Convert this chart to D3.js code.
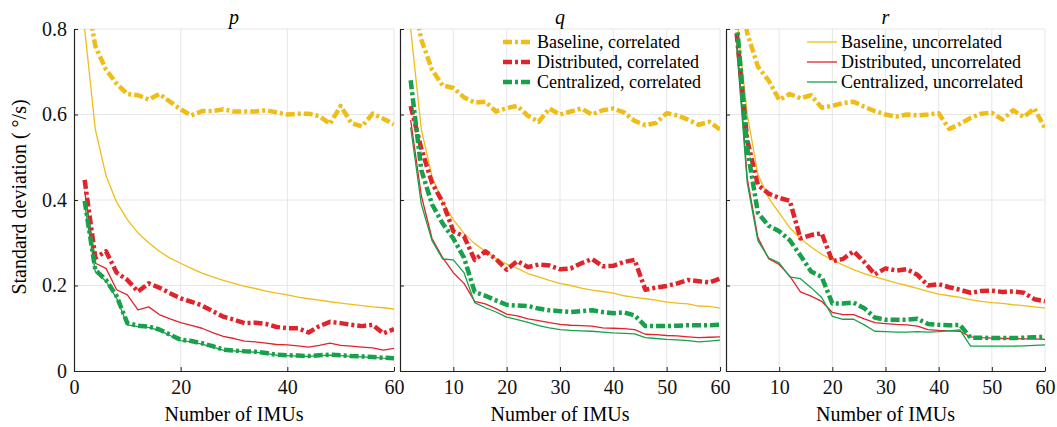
<!DOCTYPE html>
<html>
<head>
<meta charset="utf-8">
<script src="https://cdn.jsdelivr.net/npm/d3@7"></script>
<style>
  body { margin: 0; background: #fff; }
  svg text { font-family: "Liberation Serif", "DejaVu Serif", serif; }
</style>
</head>
<body>
<div id="graph"></div>
<script>
!(function(){
    "use strict"

    var serif = "'Liberation Serif', 'DejaVu Serif', serif";

    // number of IMUs (even counts only)
    var imus = d3.range(2, 61, 2);

    var panelTitles = ["p", "q", "r"];
    var xTicksP = [0, 20, 40, 60];
    var xTicksQR = [0, 10, 20, 30, 40, 50, 60];
    var yTicks = [0, 0.2, 0.4, 0.6, 0.8];

    var seriesNames = [
        "Baseline, correlated", "Distributed, correlated", "Centralized, correlated",
        "Baseline, uncorrelated", "Distributed, uncorrelated", "Centralized, uncorrelated"
    ];

    // ---- p ----
    var pBaseCorr = [0.90, 0.76, 0.705, 0.672, 0.648, 0.645, 0.635, 0.648, 0.63, 0.612, 0.598, 0.608, 0.608, 0.612, 0.607,
                     0.607, 0.607, 0.61, 0.605, 0.60, 0.602, 0.602, 0.596, 0.578, 0.62, 0.58, 0.572, 0.602, 0.59, 0.577];
    var pDistCorr = [0.447, 0.265, 0.28, 0.23, 0.213, 0.186, 0.205, 0.195, 0.182, 0.17, 0.162, 0.153, 0.14, 0.127, 0.12,
                     0.112, 0.113, 0.11, 0.103, 0.10, 0.10, 0.09, 0.105, 0.115, 0.112, 0.108, 0.105, 0.108, 0.088, 0.098];
    var pCentCorr = [0.398, 0.236, 0.213, 0.175, 0.112, 0.106, 0.104, 0.097, 0.085, 0.073, 0.07, 0.065, 0.058, 0.05, 0.048,
                     0.046, 0.045, 0.042, 0.038, 0.037, 0.036, 0.035, 0.037, 0.038, 0.037, 0.035, 0.034, 0.033, 0.031, 0.03];
    var pBaseUnc  = [0.80, 0.565, 0.457, 0.395, 0.354, 0.323, 0.30, 0.28, 0.264, 0.252, 0.24, 0.229, 0.22, 0.212, 0.205,
                     0.198, 0.193, 0.187, 0.182, 0.178, 0.173, 0.169, 0.166, 0.162, 0.159, 0.156, 0.153, 0.15, 0.148, 0.145];
    var pDistUnc  = [0.42, 0.252, 0.24, 0.19, 0.178, 0.143, 0.15, 0.132, 0.122, 0.113, 0.107, 0.10, 0.09, 0.081, 0.076,
                     0.07, 0.068, 0.065, 0.062, 0.061, 0.059, 0.056, 0.06, 0.065, 0.06, 0.058, 0.056, 0.054, 0.049, 0.053];
    var pCentUnc  = [0.39, 0.232, 0.21, 0.17, 0.108, 0.104, 0.102, 0.095, 0.083, 0.071, 0.068, 0.063, 0.056, 0.049, 0.047,
                     0.045, 0.044, 0.041, 0.037, 0.036, 0.035, 0.034, 0.036, 0.037, 0.036, 0.034, 0.033, 0.032, 0.03, 0.029];

    // ---- q ----
    var qBaseCorr = [0.90, 0.775, 0.705, 0.668, 0.662, 0.64, 0.628, 0.63, 0.607, 0.615, 0.62, 0.597, 0.583, 0.614, 0.60,
                     0.607, 0.614, 0.60, 0.61, 0.614, 0.605, 0.585, 0.575, 0.58, 0.603, 0.598, 0.588, 0.576, 0.583, 0.565];
    var qDistCorr = [0.62, 0.52, 0.44, 0.395, 0.327, 0.315, 0.26, 0.28, 0.262, 0.237, 0.257, 0.243, 0.249, 0.247, 0.238,
                     0.24, 0.252, 0.262, 0.245, 0.246, 0.255, 0.26, 0.19, 0.195, 0.199, 0.205, 0.213, 0.21, 0.207, 0.216];
    var qCentCorr = [0.68, 0.47, 0.39, 0.345, 0.31, 0.265, 0.185, 0.176, 0.165, 0.155, 0.153, 0.152, 0.146, 0.142, 0.14,
                     0.138, 0.14, 0.142, 0.138, 0.135, 0.137, 0.13, 0.105, 0.105, 0.105, 0.106, 0.107, 0.107, 0.107, 0.108];
    var qBaseUnc  = [0.80, 0.565, 0.455, 0.395, 0.354, 0.322, 0.298, 0.28, 0.263, 0.25, 0.24, 0.228, 0.22, 0.212, 0.205,
                     0.20, 0.194, 0.189, 0.186, 0.182, 0.176, 0.172, 0.169, 0.166, 0.161, 0.159, 0.157, 0.152, 0.151, 0.147];
    var qDistUnc  = [0.587, 0.41, 0.31, 0.265, 0.23, 0.205, 0.163, 0.157, 0.146, 0.133, 0.129, 0.122, 0.118, 0.113, 0.109,
                     0.107, 0.106, 0.105, 0.101, 0.10, 0.099, 0.097, 0.086, 0.085, 0.083, 0.082, 0.08, 0.078, 0.079, 0.08];
    var qCentUnc  = [0.57, 0.39, 0.305, 0.262, 0.26, 0.23, 0.16, 0.148, 0.138, 0.126, 0.12, 0.114, 0.106, 0.101, 0.097,
                     0.095, 0.094, 0.093, 0.091, 0.089, 0.088, 0.087, 0.078, 0.076, 0.074, 0.073, 0.071, 0.068, 0.07, 0.072];

    // ---- r ----
    var rBaseCorr = [0.93, 0.79, 0.712, 0.68, 0.634, 0.648, 0.638, 0.645, 0.616, 0.62, 0.627, 0.63, 0.618, 0.608, 0.60,
                     0.595, 0.60, 0.598, 0.60, 0.603, 0.566, 0.578, 0.592, 0.602, 0.604, 0.588, 0.61, 0.594, 0.614, 0.568];
    var rDistCorr = [0.79, 0.54, 0.435, 0.415, 0.405, 0.398, 0.31, 0.318, 0.322, 0.257, 0.262, 0.28, 0.255, 0.226, 0.24,
                     0.235, 0.238, 0.225, 0.20, 0.203, 0.196, 0.19, 0.183, 0.187, 0.188, 0.185, 0.186, 0.183, 0.168, 0.163];
    var rCentCorr = [0.82, 0.52, 0.37, 0.34, 0.327, 0.306, 0.27, 0.233, 0.22, 0.158, 0.158, 0.16, 0.147, 0.125, 0.12,
                     0.12, 0.12, 0.122, 0.11, 0.108, 0.107, 0.108, 0.078, 0.078, 0.077, 0.077, 0.077, 0.078, 0.079, 0.08];
    var rBaseUnc  = [0.83, 0.60, 0.46, 0.405, 0.37, 0.335, 0.31, 0.29, 0.273, 0.26, 0.248, 0.237, 0.228, 0.22, 0.213,
                     0.206, 0.20, 0.193, 0.186, 0.18, 0.176, 0.172, 0.167, 0.163, 0.16, 0.158, 0.155, 0.153, 0.15, 0.147];
    var rDistUnc  = [0.78, 0.45, 0.312, 0.263, 0.249, 0.222, 0.185, 0.175, 0.163, 0.137, 0.132, 0.132, 0.122, 0.113, 0.111,
                     0.109, 0.108, 0.105, 0.097, 0.095, 0.094, 0.093, 0.08, 0.078, 0.077, 0.076, 0.076, 0.075, 0.075, 0.074];
    var rCentUnc  = [0.76, 0.44, 0.305, 0.265, 0.253, 0.22, 0.216, 0.195, 0.172, 0.128, 0.121, 0.121, 0.108, 0.093, 0.092,
                     0.091, 0.091, 0.092, 0.091, 0.092, 0.094, 0.096, 0.058, 0.058, 0.058, 0.058, 0.058, 0.059, 0.06, 0.061];

    var panelData = [
        [pBaseCorr, pDistCorr, pCentCorr, pBaseUnc, pDistUnc, pCentUnc],
        [qBaseCorr, qDistCorr, qCentCorr, qBaseUnc, qDistUnc, qCentUnc],
        [rBaseCorr, rDistCorr, rCentCorr, rBaseUnc, rDistUnc, rCentUnc]
    ];

    var yellow = "#f0bd16", red = "#e0242c", green = "#16a14a";
    var colors = [yellow, red, green, yellow, red, green];
    var dashed = [true, true, true, false, false, false];

    var width = 1057, height = 427;
    var xRanges = [[74, 394], [400, 720], [726, 1045]];
    var yTop = 29, yBottom = 371;

    var svg = d3.select("#graph").append("svg")
        .attr("width", width)
        .attr("height", height);

    var y = d3.scaleLinear().domain([0, 0.8]).range([yBottom, yTop]);

    // draw order: thin lines first, thick dashed on top (as in the figure)
    var drawOrder = [3, 4, 5, 0, 1, 2];

    panelData.forEach(function(series, pi) {
        var xr = xRanges[pi];
        var x = d3.scaleLinear().domain([0, 60]).range(xr);
        var ticks = pi === 0 ? xTicksP : xTicksQR;
        var g = svg.append("g");

        svg.append("clipPath").attr("id", "clip" + pi)
            .append("rect")
            .attr("x", xr[0]).attr("y", yTop)
            .attr("width", xr[1] - xr[0]).attr("height", yBottom - yTop);

        // grid
        g.selectAll(".vgrid").data(ticks.slice(1)).enter().append("line")
            .attr("x1", function(d){ return x(d); }).attr("x2", function(d){ return x(d); })
            .attr("y1", yTop).attr("y2", yBottom)
            .attr("stroke", "#e6e6e6").attr("stroke-width", 1);
        g.selectAll(".hgrid").data(yTicks.slice(1)).enter().append("line")
            .attr("x1", xr[0]).attr("x2", xr[1])
            .attr("y1", function(d){ return y(d); }).attr("y2", function(d){ return y(d); })
            .attr("stroke", "#e6e6e6").attr("stroke-width", 1);

        // lines
        var line = d3.line()
            .x(function(d, i){ return x(imus[i]); })
            .y(function(d){ return y(d); });

        var lg = g.append("g").attr("clip-path", "url(#clip" + pi + ")");
        drawOrder.forEach(function(si) {
            lg.append("path")
                .attr("d", line(series[si]))
                .attr("fill", "none")
                .attr("stroke", colors[si])
                .attr("stroke-width", dashed[si] ? 4.5 : 1.3)
                .attr("stroke-dasharray", dashed[si] ? "9,3,3,3" : null)
                .attr("stroke-linejoin", "round");
        });

        // axes -- the 0 of q and r hides under the 60 of the panel to its left
        var xAxis = d3.axisBottom(x).tickValues(ticks).tickSizeInner(-4).tickSizeOuter(0)
            .tickFormat(function(d){ return (pi > 0 && d === 0) ? "" : String(d); });
        var gx = g.append("g").attr("transform", "translate(0," + yBottom + ")").call(xAxis);
        gx.selectAll("text").attr("dy", "0.71em").attr("y", 9);

        var yAxis = d3.axisLeft(y).tickValues(yTicks).tickSizeInner(-4).tickSizeOuter(0)
            .tickFormat(function(d){ return pi === 0 ? (d === 0 ? "0" : d3.format(".1f")(d)) : ""; });
        var gy = g.append("g").attr("transform", "translate(" + xr[0] + ",0)").call(yAxis);
        gy.selectAll("text").attr("x", -7);

        [gx, gy].forEach(function(a) {
            a.attr("font-family", serif).attr("font-size", 20);
            a.selectAll("text").attr("fill", "#111").style("font-family", serif).style("font-size", "20px");
            a.select(".domain").attr("stroke", "#222").attr("stroke-width", 1.2);
            a.selectAll(".tick line").attr("stroke", "#222");
        });

        // title & x label
        svg.append("text")
            .attr("x", (xr[0] + xr[1]) / 2).attr("y", 24)
            .attr("text-anchor", "middle")
            .style("font-family", serif)
            .style("font-size", "20px").style("font-style", "italic")
            .text(panelTitles[pi]);

        svg.append("text")
            .attr("x", (xr[0] + xr[1]) / 2).attr("y", 421)
            .attr("text-anchor", "middle")
            .style("font-family", serif)
            .style("font-size", "20px")
            .text("Number of IMUs");
    });

    // y label
    svg.append("text")
        .attr("transform", "translate(26,197) rotate(-90)")
        .attr("text-anchor", "middle")
        .style("font-family", serif)
        .style("font-size", "20px")
        .text("Standard deviation ( \u00b0/s)");

    // legends: correlated in q panel, uncorrelated in r panel
    var legendX = [503, 807];
    var legendRows = [42, 62, 82];
    [[0, 1, 2], [3, 4, 5]].forEach(function(group, li) {
        var lx = legendX[li];
        group.forEach(function(si, k) {
            var ly = legendRows[k];
            svg.append("line")
                .attr("x1", lx).attr("x2", lx + 30)
                .attr("y1", ly).attr("y2", ly)
                .attr("stroke", colors[si])
                .attr("stroke-width", dashed[si] ? 4.5 : 1.3)
                .attr("stroke-dasharray", dashed[si] ? "9,3,3,3" : null);
            svg.append("text")
                .attr("x", lx + 34).attr("y", ly + 6)
                .style("font-family", serif)
                .style("font-size", "18px")
                .text(seriesNames[si]);
        });
    });

}());
</script>
</body>
</html>
